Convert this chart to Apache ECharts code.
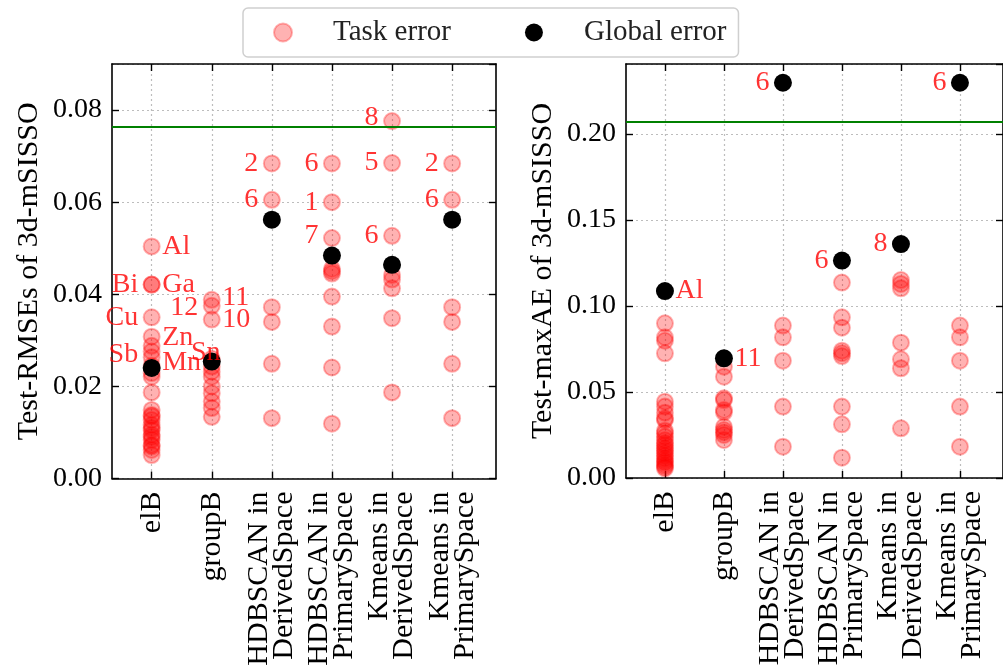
<!DOCTYPE html>
<html>
<head>
<meta charset="utf-8">
<script src="https://cdn.jsdelivr.net/npm/echarts@6/dist/echarts.min.js"></script>
<style>
  html, body { margin: 0; padding: 0; background: #fff; }
  #chart { width: 1003px; height: 669px; }
</style>
</head>
<body>
<div id="chart"></div>
<script>
// x categories (index 0..5 on a value axis)
const categories = ['elB', 'groupB', 'HDBSCAN in\nDerivedSpace', 'HDBSCAN in\nPrimarySpace',
  'Kmeans in\nDerivedSpace', 'Kmeans in\nPrimarySpace']

// left panel: Test-RMSEs
const rmseTask = [
  [0.0504, 0.0421, 0.0421, 0.0350, 0.0308, 0.0288, 0.0276, 0.0263, 0.0245, 0.0229, 0.0221, 0.0187,
    0.0149, 0.0138, 0.0135, 0.0127, 0.0116, 0.0110, 0.0105, 0.0095, 0.0090, 0.0084, 0.0073, 0.0070, 0.0062, 0.0051],
  [0.0388, 0.0375, 0.0345, 0.0260, 0.0243, 0.0232, 0.0221, 0.0200, 0.0185, 0.0167, 0.0153, 0.0134],
  [0.0684, 0.0605, 0.0372, 0.0340, 0.0249, 0.0131],
  [0.0684, 0.0600, 0.0522, 0.0455, 0.0450, 0.0445, 0.0395, 0.0330, 0.0241, 0.0119],
  [0.0776, 0.0685, 0.0527, 0.0442, 0.0432, 0.0413, 0.0348, 0.0187],
  [0.0684, 0.0605, 0.0372, 0.0340, 0.0249, 0.0131]
]
const rmseGlobal = [0.0240, 0.0254, 0.0562, 0.0484, 0.0464, 0.0562]
const rmseRef = 0.0764
// [category, value, text, side]
const rmseNotes = [
  [0, 0.0504, 'Al', 'right'], [0, 0.0421, 'Bi', 'left'], [0, 0.0421, 'Ga', 'right'],
  [0, 0.0350, 'Cu', 'left'], [0, 0.0305, 'Zn', 'right'], [0, 0.0268, 'Sb', 'left'],
  [0, 0.0251, 'Mn', 'right'], [1, 0.0273, 'Sn', 'mid'],
  [1, 0.0392, '11', 'right'], [1, 0.0370, '12', 'left'], [1, 0.0345, '10', 'right'],
  [2, 0.0684, '2', 'left'], [2, 0.0605, '6', 'left'],
  [3, 0.0684, '6', 'left'], [3, 0.0600, '1', 'left'], [3, 0.0528, '7', 'left'],
  [4, 0.0784, '8', 'left'], [4, 0.0685, '5', 'left'], [4, 0.0527, '6', 'left'],
  [5, 0.0684, '2', 'left'], [5, 0.0605, '6', 'left']
]

// right panel: Test-maxAE
const maxaeTask = [
  [0.0899, 0.0818, 0.0798, 0.0725, 0.0444, 0.0415, 0.0380, 0.0347, 0.0337, 0.0275, 0.0260, 0.0240,
    0.0220, 0.0202, 0.0190, 0.0173, 0.0160, 0.0144, 0.0130, 0.0114, 0.0100, 0.0090, 0.0076, 0.0065, 0.0056],
  [0.0647, 0.0589, 0.0463, 0.0453, 0.0395, 0.0382, 0.0298, 0.0279, 0.0265, 0.0250, 0.0221],
  [0.0886, 0.0818, 0.0682, 0.0415, 0.0182],
  [0.1136, 0.0934, 0.0874, 0.0740, 0.0725, 0.0709, 0.0415, 0.0312, 0.0118],
  [0.1151, 0.1128, 0.1103, 0.0787, 0.0690, 0.0638, 0.0289],
  [0.0886, 0.0818, 0.0682, 0.0415, 0.0182]
]
const maxaeGlobal = [0.1087, 0.0696, 0.2298, 0.1264, 0.1360, 0.2298]
const maxaeRef = 0.2072
const maxaeNotes = [
  [0, 0.1087, 'Al', 'right'], [1, 0.0696, '11', 'right'],
  [2, 0.2298, '6', 'left'], [3, 0.1264, '6', 'left'],
  [4, 0.1360, '8', 'left'], [5, 0.2298, '6', 'left']
]

const FONT = 'Liberation Serif'
const catIdx = categories.map((c, i) => i)
const gridLine = { show: true, lineStyle: { color: '#bdbdbd', width: 1.2, type: [2, 3] } }
const axisLine = { show: true, onZero: false, lineStyle: { color: '#000', width: 1.6 } }

function xAxes(g) {
  const base = {
    type: 'value', gridIndex: g, min: -0.66, max: 5.73,
    axisLine: axisLine,
    axisTick: { show: true, inside: true, length: 7, customValues: catIdx, lineStyle: { color: '#000', width: 1.4 } }
  }
  return [
    Object.assign({}, base, {
      position: 'bottom',
      splitLine: gridLine,
      axisLabel: {
        customValues: catIdx, rotate: 90, margin: 13,
        formatter: v => categories[Math.round(v)],
        fontFamily: FONT, fontSize: 30, lineHeight: 25, color: '#000'
      }
    }),
    Object.assign({}, base, { position: 'top', splitLine: { show: false }, axisLabel: { show: false } })
  ]
}

function yAxes(g, max, interval, name) {
  const base = {
    type: 'value', gridIndex: g, min: 0, max: max, interval: interval,
    axisLine: axisLine,
    axisTick: { show: true, inside: true, length: 7, lineStyle: { color: '#000', width: 1.4 } }
  }
  return [
    Object.assign({}, base, {
      position: 'left',
      name: name, nameLocation: 'middle', nameGap: 68,
      nameTextStyle: { fontFamily: FONT, fontSize: 30, color: '#000' },
      splitLine: gridLine,
      axisLabel: {
        margin: 10, fontFamily: FONT, fontSize: 28, color: '#000', showMaxLabel: false,
        formatter: v => v.toFixed(2)
      }
    }),
    Object.assign({}, base, { position: 'right', splitLine: { show: false }, axisLabel: { show: false } })
  ]
}

function panelSeries(g, task, global, ref, notes) {
  const taskData = []
  task.forEach((vals, i) => vals.forEach(v => taskData.push([i, v])))
  return [
    {
      name: 'Task error', type: 'scatter', xAxisIndex: 2 * g, yAxisIndex: 2 * g,
      data: taskData, symbolSize: 16, z: 3,
      itemStyle: { color: 'rgba(255,0,0,0.3)', borderColor: 'rgba(255,0,0,0.3)', borderWidth: 2, opacity: 1 },
      markLine: {
        silent: true, symbol: 'none', precision: 6, label: { show: false },
        lineStyle: { color: '#008000', width: 2, type: 'solid' },
        data: [{ yAxis: ref }]
      }
    },
    {
      name: 'Global error', type: 'scatter', xAxisIndex: 2 * g, yAxisIndex: 2 * g,
      data: global.map((v, i) => [i, v]), symbolSize: 18, z: 4,
      itemStyle: { color: '#000', opacity: 1 }
    },
    {
      name: 'notes', type: 'scatter', xAxisIndex: 2 * g, yAxisIndex: 2 * g,
      silent: true, symbolSize: 1, z: 5,
      itemStyle: { color: 'rgba(0,0,0,0)' },
      data: notes.map(n => ({
        value: [n[0], n[1]],
        label: {
          show: true, formatter: n[2],
          position: n[3] === 'mid' ? 'inside' : n[3],
          distance: n[3] === 'left' ? 13 : 10,
          offset: n[3] === 'mid' ? [-6, 0] : [0, 0],
          fontFamily: FONT, fontSize: 28, color: '#ff0000'
        }
      }))
    }
  ]
}

const chart = echarts.init(document.getElementById('chart'))
chart.setOption({
  animation: false,
  backgroundColor: '#fff',
  legend: {
    data: ['Task error', 'Global error'],
    left: 243, top: 8,
    padding: [10, 12, 10, 30],
    itemWidth: 18, itemHeight: 18, itemGap: 74,
    backgroundColor: '#fff', borderColor: '#cfcfcf', borderWidth: 1.5, borderRadius: 5,
    textStyle: { fontFamily: FONT, fontSize: 29, color: '#222', padding: [0, 0, 0, 36] }
  },
  grid: [
    { left: 112, top: 64, width: 384, height: 414.5 },
    { left: 626, top: 64, width: 384, height: 414 }
  ],
  xAxis: xAxes(0).concat(xAxes(1)),
  yAxis: yAxes(0, 0.09, 0.02, 'Test-RMSEs of 3d-mSISSO')
    .concat(yAxes(1, 0.2407, 0.05, 'Test-maxAE of 3d-mSISSO')),
  series: panelSeries(0, rmseTask, rmseGlobal, rmseRef, rmseNotes)
    .concat(panelSeries(1, maxaeTask, maxaeGlobal, maxaeRef, maxaeNotes))
})
</script>
</body>
</html>
